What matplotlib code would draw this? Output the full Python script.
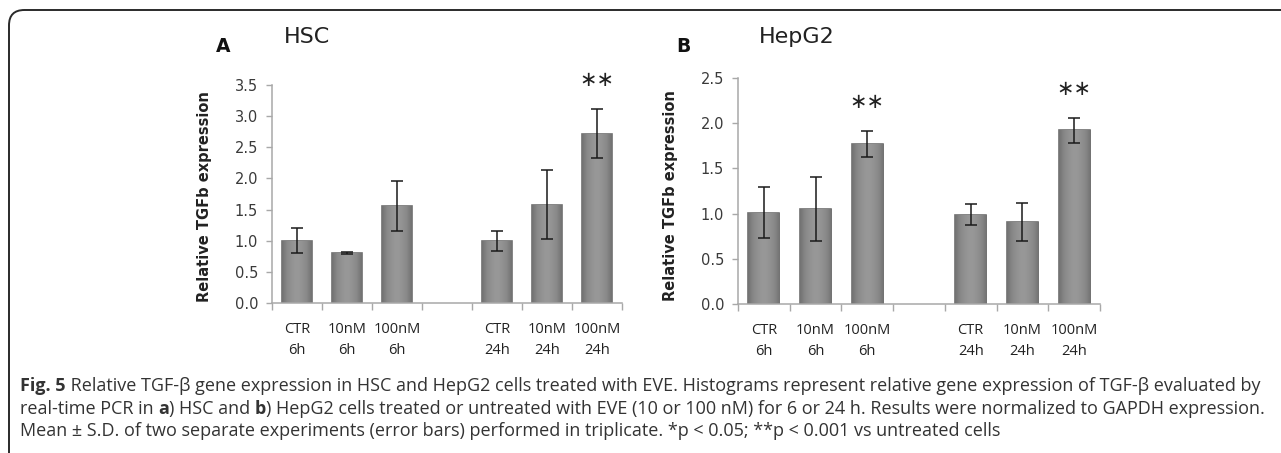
import matplotlib
matplotlib.use("Agg")
import matplotlib.pyplot as plt
import numpy as np
from matplotlib.patches import FancyBboxPatch
from matplotlib.colors import LinearSegmentedColormap

# categories (blank slot between 6h and 24h groups)
categories = ["CTR\n6h", "10nM\n6h", "100nM\n6h", "", "CTR\n24h", "10nM\n24h", "100nM\n24h"]
bar_slots = [0, 1, 2, 4, 5, 6]

hsc_mean = [1.00, 0.80, 1.56, 1.00, 1.58, 2.72]
hsc_err = [0.20, 0.02, 0.40, 0.16, 0.56, 0.40]
hsc_sig = [False, False, False, False, False, True]

hep_mean = [1.01, 1.05, 1.77, 0.99, 0.91, 1.92]
hep_err = [0.28, 0.35, 0.14, 0.12, 0.21, 0.14]
hep_sig = [False, False, True, False, False, True]

W, H = 1281, 453
fig = plt.figure(figsize=(W / 100, H / 100), dpi=100)

narrow = ["Liberation Sans Narrow", "Open Sans", "DejaVu Sans"]
grey_axis = "#a8a8a8"
txt = "#333333"

# horizontal shading for the bars: darker edges, lighter middle
bar_cmap = LinearSegmentedColormap.from_list("bar", ["#989898", "#8a8a8a", "#727272"])
shade = np.abs(np.linspace(-1, 1, 64)) ** 1.5
shade = np.vstack([shade, shade])


def panel(rect, means, errs, sig, ymax, letter, title, letter_xy, title_xy):
    ax = fig.add_axes(rect)
    bars = ax.bar(bar_slots, means, width=0.6, color="#8c8c8c", edgecolor="#707070",
                  linewidth=1.2, zorder=2)
    for b in bars:
        x0, w, h = b.get_x(), b.get_width(), b.get_height()
        im = ax.imshow(shade, cmap=bar_cmap, vmin=0, vmax=1, aspect="auto",
                       extent=(x0, x0 + w, 0, h), zorder=2.1, interpolation="bilinear")
        im.set_clip_path(b)
    ax.errorbar(bar_slots, means, yerr=errs, fmt="none", ecolor="#1a1a1a",
                elinewidth=1.1, capsize=4, capthick=1.1, zorder=3)
    for x, m, e, s in zip(bar_slots, means, errs, sig):
        if s:
            ax.annotate("∗∗", (x, m + e), xytext=(0, 21), textcoords="offset points",
                        ha="center", va="center", fontsize=15, color="#222222",
                        annotation_clip=False)
    ax.set_xlim(-0.5, 6.5)
    ax.set_ylim(0, ymax)
    ax.set_yticks([i * 0.5 for i in range(int(ymax / 0.5) + 1)])
    ax.set_yticklabels([f"{i * 0.5:.1f}" for i in range(int(ymax / 0.5) + 1)])
    # boundary ticks (major, no labels) + centered labels (minor)
    ax.set_xticks([i - 0.5 for i in range(8)])
    ax.set_xticklabels([])
    ax.set_xticks(range(7), minor=True)
    ax.set_xticklabels(categories, minor=True, fontsize=10.5, family=narrow,
                       color="#222222", linespacing=1.5)
    ax.tick_params(axis="x", which="major", length=5, color=grey_axis, width=1)
    ax.tick_params(axis="x", which="minor", length=0, pad=14)
    ax.tick_params(axis="y", length=4, color=grey_axis, width=1,
                   labelsize=10.5, labelcolor="#3a3a3a", pad=6)
    for side in ["top", "right"]:
        ax.spines[side].set_visible(False)
    for side in ["left", "bottom"]:
        ax.spines[side].set_color(grey_axis)
        ax.spines[side].set_linewidth(1.1)
    ax.set_ylabel("Relative TGFb expression", fontsize=10.5, fontweight="bold",
                  color="#222222")
    ax.yaxis.set_label_coords(-0.17, 0.49)
    fig.text(letter_xy[0] / W, 1 - letter_xy[1] / H, letter, fontsize=13.5,
             fontweight="bold", ha="center", va="center", color="#111111")
    fig.text(title_xy[0] / W, 1 - title_xy[1] / H, title, fontsize=16,
             ha="left", va="center", color="#222222")
    return ax


ax1 = panel([272 / W, 1 - 303 / H, 350 / W, 218 / H], hsc_mean, hsc_err, hsc_sig, 3.5,
            "A", "HSC", (223, 47), (284, 37))
ax2 = panel([738 / W, 1 - 304 / H, 362 / W, 226 / H], hep_mean, hep_err, hep_sig, 2.5,
            "B", "HepG2", (683, 47), (759, 37))
ax2.yaxis.set_label_coords(-0.165, 0.48)

# rounded frame around the figure
frame = FancyBboxPatch((9 / W, -20 / H), 1300 / W, 463 / H,
                       boxstyle="round,pad=0,rounding_size=0.012",
                       transform=fig.transFigure, fill=False,
                       edgecolor="#2a2a2a", linewidth=1.4, mutation_aspect=W / H)
fig.patches.append(frame)

# caption with bold fragments
caption = [
    [("Fig. 5", True), (" Relative TGF-β gene expression in HSC and HepG2 cells treated with EVE. "
                        "Histograms represent relative gene expression of TGF-β evaluated by", False)],
    [("real-time PCR in ", False), ("a", True), (") HSC and ", False), ("b", True),
     (") HepG2 cells treated or untreated with EVE (10 or 100 nM) for 6 or 24 h. "
      "Results were normalized to GAPDH expression.", False)],
    [("Mean ± S.D. of two separate experiments (error bars) performed in triplicate. "
      "*p < 0.05; **p < 0.001 vs untreated cells", False)],
]
cap_y = [386, 409, 431]

fig.canvas.draw()
renderer = fig.canvas.get_renderer()
for line, y in zip(caption, cap_y):
    x = 20
    for s, bold in line:
        t = fig.text(x / W, 1 - y / H, s, fontsize=13, family=narrow,
                     fontweight="bold" if bold else "normal", color=txt,
                     ha="left", va="center")
        x += t.get_window_extent(renderer).width

fig.savefig("out.png", dpi=100)
